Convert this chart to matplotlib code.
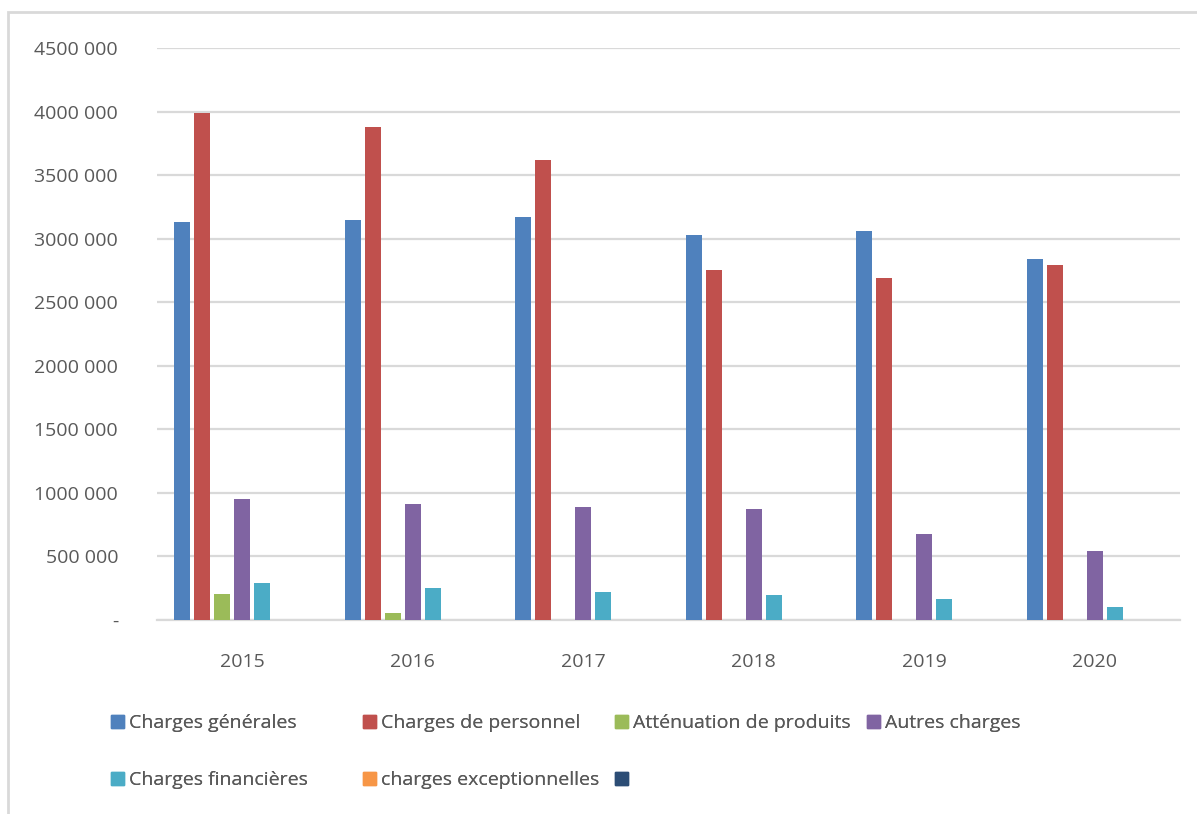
import numpy as np
import matplotlib.pyplot as plt
from matplotlib.patches import Rectangle, Patch
from matplotlib.ticker import FuncFormatter

plt.rcParams['font.family'] = ['Open Sans', 'DejaVu Sans']

years = ["2015", "2016", "2017", "2018", "2019", "2020"]
charges_generales = [3130000, 3150000, 3170000, 3030000, 3060000, 2840000]
charges_personnel = [3990000, 3880000, 3620000, 2750000, 2690000, 2790000]
attenuation_produits = [205000, 55000, 0, 0, 0, 0]
autres_charges = [955000, 915000, 890000, 870000, 680000, 545000]
charges_financieres = [295000, 255000, 220000, 195000, 165000, 105000]
charges_exceptionnelles = [0, 0, 0, 0, 0, 0]
serie_sans_nom = [0, 0, 0, 0, 0, 0]

series = [
    ("Charges générales", charges_generales, "#4F81BD"),
    ("Charges de personnel", charges_personnel, "#C0504D"),
    ("Atténuation de produits", attenuation_produits, "#9BBB59"),
    ("Autres charges", autres_charges, "#8064A2"),
    ("Charges financières", charges_financieres, "#4BACC6"),
    ("charges exceptionnelles", charges_exceptionnelles, "#F79646"),
    ("", serie_sans_nom, "#2C4D75"),
]

TEXT = "#595959"
GRID = "#D9D9D9"
W, H = 1197, 814

fig = plt.figure(figsize=(W / 100, H / 100), dpi=100)
ax = fig.add_axes([157 / W, 1 - 620 / H, (1180 - 157) / W, (620 - 48) / H])

# outer chart frame (Excel chart area border)
fig.patches.append(Rectangle((8 / W, -0.01), 1.1, 1 - 12 / H + 0.01,
                             transform=fig.transFigure, fill=False,
                             edgecolor=GRID, linewidth=2))

x = np.arange(len(years))
slot = 0.1176
width = 0.094
n = len(series)
for i, (name, vals, col) in enumerate(series):
    ax.bar(x + (i - (n - 1) / 2) * slot, vals, width, color=col, zorder=3)

ax.set_xlim(-0.5, len(years) - 0.5)
ax.set_ylim(0, 4500000)
ax.set_yticks(np.arange(0, 4500001, 500000))


def fmt(v, pos):
    v = int(round(v))
    if v == 0:
        return "-"
    return f"{v // 1000} {v % 1000:03d}"


ax.yaxis.set_major_formatter(FuncFormatter(fmt))
ax.set_xticks(x, years)
ax.grid(True, axis="y", color=GRID, linewidth=1.6, zorder=0)
for s in ["left", "right", "top"]:
    ax.spines[s].set_visible(False)
ax.spines["bottom"].set_color(GRID)
ax.spines["bottom"].set_linewidth(1.6)
ax.tick_params(axis="both", length=0, colors=TEXT, labelsize=14)
ax.tick_params(axis="y", pad=28)
ax.tick_params(axis="x", pad=24)

# legend: fixed-width grid like Excel, 4 entries per row
col_x0, col_step = 111, 252
row_y = [723, 780]
for k, (name, _, col) in enumerate(series):
    r, c = divmod(k, 4)
    lg = fig.legend([Patch(color=col)], [name], loc="center left",
                    bbox_to_anchor=((col_x0 + c * col_step) / W, 1 - row_y[r] / H),
                    frameon=False, fontsize=14, handlelength=0.65,
                    handleheight=0.65, handletextpad=0.3, borderpad=0,
                    borderaxespad=0, labelcolor=TEXT)
    fig.add_artist(lg)

fig.savefig("out.png", dpi=100)
